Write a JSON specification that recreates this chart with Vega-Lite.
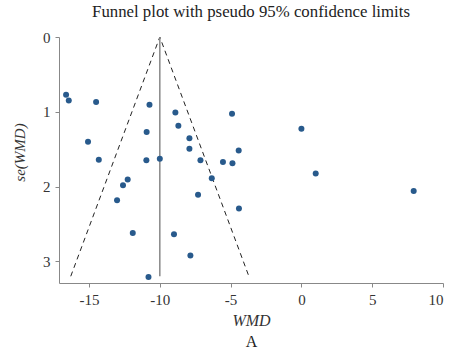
{
  "$schema": "https://vega.github.io/schema/vega-lite/v6.json",
  "autosize": {"type": "none"},
  "width": 384,
  "height": 246,
  "padding": {"left": 59, "top": 37, "right": 10, "bottom": 65},
  "background": "white",
  "title": {
    "text": "Funnel plot with pseudo 95% confidence limits",
    "font": "Liberation Serif",
    "fontSize": 16.8,
    "fontWeight": "normal",
    "color": "#222222",
    "anchor": "middle",
    "offset": 9
  },
  "config": {
    "view": {"stroke": null},
    "axis": {
      "labelFont": "Liberation Serif",
      "titleFont": "Liberation Serif",
      "labelFontSize": 15,
      "titleFontSize": 15,
      "titleFontWeight": "normal",
      "labelColor": "#333333",
      "titleColor": "#333333",
      "domainColor": "#888888",
      "tickColor": "#888888",
      "tickSize": 4,
      "grid": false,
      "labelPadding": 5
    }
  },
  "datasets": {
    "studies": [
      {"wmd": -16.62, "se": 0.772},
      {"wmd": -16.43, "se": 0.849},
      {"wmd": -14.5, "se": 0.870},
      {"wmd": -10.73, "se": 0.906},
      {"wmd": -8.9, "se": 1.009},
      {"wmd": -4.9, "se": 1.027},
      {"wmd": -15.07, "se": 1.402},
      {"wmd": -14.31, "se": 1.643},
      {"wmd": -10.93, "se": 1.272},
      {"wmd": -10.95, "se": 1.647},
      {"wmd": -10.0, "se": 1.629},
      {"wmd": -8.69, "se": 1.187},
      {"wmd": -7.91, "se": 1.353},
      {"wmd": -7.91, "se": 1.495},
      {"wmd": -7.13, "se": 1.647},
      {"wmd": -5.54, "se": 1.673},
      {"wmd": -4.87, "se": 1.687},
      {"wmd": -4.43, "se": 1.518},
      {"wmd": -12.27, "se": 1.906},
      {"wmd": -12.6, "se": 1.982},
      {"wmd": -6.33, "se": 1.888},
      {"wmd": -7.3, "se": 2.111},
      {"wmd": -13.02, "se": 2.182},
      {"wmd": -4.41, "se": 2.294},
      {"wmd": -11.91, "se": 2.62},
      {"wmd": -9.0, "se": 2.637},
      {"wmd": -7.84, "se": 2.923},
      {"wmd": -10.8, "se": 3.209},
      {"wmd": 0.0, "se": 1.228},
      {"wmd": 1.01, "se": 1.826},
      {"wmd": 7.93, "se": 2.058}
    ],
    "funnel": [
      {"wmd": -16.29, "se": 3.2, "order": 1},
      {"wmd": -10.0, "se": 0.0, "order": 2},
      {"wmd": -3.71, "se": 3.2, "order": 3}
    ],
    "pooled": [
      {"wmd": -10.0, "se": 0.0, "se2": 3.2}
    ]
  },
  "layer": [
    {
      "data": {"name": "funnel"},
      "mark": {"type": "line", "stroke": "#222222", "strokeWidth": 1, "strokeDash": [5, 4]},
      "encoding": {
        "x": {"field": "wmd", "type": "quantitative", "scale": {"domain": [-17.12, 10], "nice": false, "zero": false}, "axis": null},
        "y": {"field": "se", "type": "quantitative", "scale": {"domain": [0, 3.29], "reverse": true, "nice": false, "zero": false}, "title": "se(WMD)"},
        "order": {"field": "order"}
      }
    },
    {
      "data": {"name": "pooled"},
      "mark": {"type": "rule", "stroke": "#888888", "strokeWidth": 1.5},
      "encoding": {
        "x": {"field": "wmd", "type": "quantitative", "scale": {"domain": [-17.12, 10], "nice": false, "zero": false},
          "axis": {"orient": "bottom", "title": "A", "labels": false, "ticks": false, "domain": false, "titlePadding": 50, "titleFontSize": 16, "titleColor": "#222222"}},
        "y": {"field": "se", "type": "quantitative", "scale": {"domain": [0, 3.29], "reverse": true, "nice": false, "zero": false}, "title": "se(WMD)"},
        "y2": {"field": "se2"}
      }
    },
    {
      "data": {"name": "studies"},
      "mark": {"type": "circle", "size": 36, "color": "#285a8c", "opacity": 1},
      "encoding": {
        "x": {"field": "wmd", "type": "quantitative", "scale": {"domain": [-17.12, 10], "nice": false, "zero": false},
          "axis": {"orient": "bottom", "values": [-15, -10, -5, 0, 5, 10], "labelExpr": "'' + datum.value", "title": "WMD", "titleFontStyle": "italic", "titleFontSize": 16, "titlePadding": 5}},
        "y": {"field": "se", "type": "quantitative", "scale": {"domain": [0, 3.29], "reverse": true, "nice": false, "zero": false},
          "axis": {"values": [0, 1, 2, 3], "format": "d", "title": "se(WMD)", "titleFontStyle": "italic", "titlePadding": 15, "titleY": 115, "labelAngle": 0}}
      }
    }
  ],
  "resolve": {"axis": {"x": "independent"}}
}
